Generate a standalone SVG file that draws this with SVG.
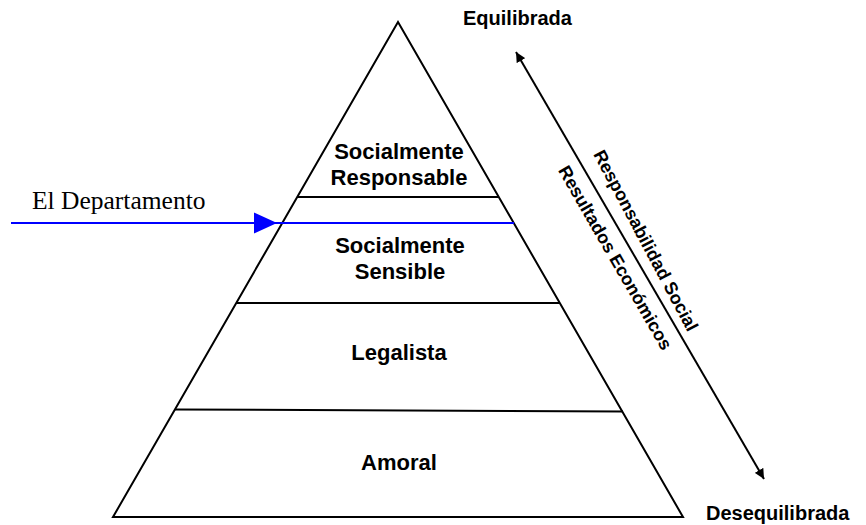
<svg xmlns="http://www.w3.org/2000/svg" width="866" height="525" viewBox="0 0 866 525">
<defs>
<style>
.lbl{font-family:"Liberation Sans",Arial,sans-serif;font-weight:bold;fill:#000}
.pl{font-size:22px;text-anchor:middle}
.sl{font-size:20px}
.rl{font-size:18px;text-anchor:middle}
.ln{stroke:#000;stroke-width:2;fill:none}
</style>
<marker id="ah" viewBox="0 0 10 10" refX="10" refY="5" markerWidth="10" markerHeight="10" markerUnits="userSpaceOnUse" orient="auto-start-reverse">
<path d="M0,0 L10,5 L0,10 z" fill="#000"/>
</marker>
</defs>
<rect width="866" height="525" fill="#fff"/>
<g id="pyramid">
<polygon class="ln" points="398,22 683,517 113,517"/>
<line class="ln" x1="297" y1="197" x2="499" y2="197"/>
<line class="ln" x1="236" y1="303" x2="560" y2="303"/>
<line class="ln" x1="175" y1="409.5" x2="623" y2="411.5"/>
</g>
<g id="level-responsable">
<text class="lbl pl" x="399" y="159">Socialmente</text>
<text class="lbl pl" x="399" y="185">Responsable</text>
</g>
<g id="level-sensible">
<text class="lbl pl" x="400" y="253">Socialmente</text>
<text class="lbl pl" x="400" y="279">Sensible</text>
</g>
<g id="level-legalista">
<text class="lbl pl" x="399" y="360">Legalista</text>
</g>
<g id="level-amoral">
<text class="lbl pl" x="399" y="470">Amoral</text>
</g>
<g id="label-equilibrada">
<text class="lbl sl" x="463" y="25">Equilibrada</text>
</g>
<g id="label-desequilibrada">
<text class="lbl sl" x="706" y="520">Desequilibrada</text>
</g>
<g id="departamento">
<text x="32" y="209" font-family="'Liberation Serif','Times New Roman',serif" font-size="25.5" fill="#000">El Departamento</text>
</g>
<g id="connectors">
<line x1="11" y1="223" x2="514" y2="223" stroke="#0000ff" stroke-width="2"/>
<polygon points="254,212.5 277,223 254,233.5" fill="#0000ff"/>
<line x1="516" y1="52" x2="764" y2="479" stroke="#000" stroke-width="2" marker-start="url(#ah)" marker-end="url(#ah)"/>
</g>
<g id="axis-labels">
<text class="lbl rl" transform="translate(640.4,243.4) rotate(62)">Responsabilidad Social</text>
<text class="lbl rl" transform="translate(610.1,260.9) rotate(60)">Resultados Económicos</text>
</g>
</svg>
